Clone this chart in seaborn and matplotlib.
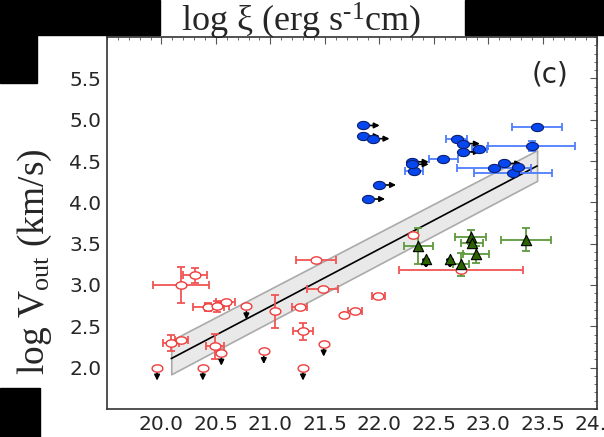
import numpy as np
import matplotlib
matplotlib.use("Agg")
import matplotlib.pyplot as plt
from matplotlib.path import Path
from matplotlib.patches import Rectangle
import seaborn as sns

# 1. Values
# warm absorbers (red open circles) with error bars
wa_x = [20.18, 20.31, 20.43, 20.51, 20.59, 20.09, 20.18, 20.49, 21.42, 21.48,
        21.04, 21.27, 21.30, 21.99, 21.78, 21.68, 22.31, 22.75]
wa_y = [3.00, 3.12, 2.73, 2.74, 2.79, 2.30, 2.33, 2.26, 3.30, 2.95,
        2.68, 2.73, 2.44, 2.87, 2.69, 2.64, 3.61, 3.18]
wa_xerr = [0.26, 0.11, 0.14, 0.11, 0.085, 0.075, 0.06, 0.08, 0.18, 0.14,
           0.0, 0.07, 0.09, 0.06, 0.065, 0.0, 0.0, 0.57]
wa_yerr = [0.22, 0.09, 0.05, 0.07, 0.0, 0.10, 0.0, 0.15, 0.0, 0.0,
           0.20, 0.0, 0.10, 0.0, 0.0, 0.0, 0.0, 0.0]

# warm absorber upper limits (down arrows)
wa_ul_x = [19.96, 20.38, 20.55, 20.78, 20.94, 21.30, 21.49]
wa_ul_y = [2.00, 2.00, 2.18, 2.74, 2.20, 2.00, 2.29]

# UFOs (blue filled circles) with error bars
ufo_x = [23.45, 22.71, 23.40, 22.92, 22.59, 22.32, 23.05, 23.23, 23.27]
ufo_y = [4.91, 4.77, 4.68, 4.65, 4.53, 4.38, 4.41, 4.36, 4.43]
ufo_xerr = [0.23, 0.10, 0.40, 0.07, 0.13, 0.08, 0.34, 0.36, 0.0]
ufo_yerr = [0.0, 0.0, 0.06, 0.0, 0.0, 0.0, 0.0, 0.0, 0.0]

# UFO lower limits on xi (right arrows)
ufo_ll_x = [21.85, 21.85, 21.94, 22.77, 22.77, 22.30, 22.30, 23.15, 22.00, 21.90]
ufo_ll_y = [4.93, 4.80, 4.77, 4.71, 4.61, 4.49, 4.46, 4.47, 4.21, 4.04]

# green triangles
gr_x = [22.36, 22.75, 22.84, 22.85, 22.89, 23.35]
gr_y = [3.47, 3.25, 3.58, 3.51, 3.37, 3.55]
gr_xerr = [0.13, 0.07, 0.14, 0.10, 0.12, 0.23]
gr_yerr = [0.22, 0.14, 0.08, 0.04, 0.10, 0.14]
gr_ul_x = [22.43, 22.65]
gr_ul_y = [3.31, 3.31]

# linear fit and its confidence band (end points)
fit_x = [20.09, 23.45]
fit_y = [2.11, 4.44]
band_lo = [1.92, 4.26]
band_hi = [2.33, 4.63]

# 2. Style
sns.set_style("white")
plt.rcParams["font.family"] = ["DejaVu Sans"]
plt.rcParams["mathtext.fontset"] = "custom"
plt.rcParams["mathtext.rm"] = "Liberation Serif"
plt.rcParams["mathtext.it"] = "Liberation Serif:italic"

fig = plt.figure(figsize=(6.04, 4.37), dpi=100)
ax = fig.add_axes([107 / 604, 28 / 437, 490 / 604, 372 / 437])

# squashed circle marker (the source image is stretched sideways)
t = np.linspace(0, 2 * np.pi, 60)
ell = Path(np.column_stack([np.cos(t), 0.68 * np.sin(t)]))

# fit band + line
ax.fill_between(fit_x, band_lo, band_hi, color="#e9e9e9", edgecolor="#aaaaaa",
                linewidth=1.2, zorder=1)
sns.lineplot(x=fit_x, y=fit_y, color="black", linewidth=1.2, ax=ax, zorder=2)

# error bars
ax.errorbar(wa_x, wa_y, xerr=wa_xerr, yerr=wa_yerr, fmt="none", ecolor="#f05555",
            elinewidth=1.3, capsize=3, capthick=1.3, zorder=3)
ax.errorbar(ufo_x, ufo_y, xerr=ufo_xerr, yerr=ufo_yerr, fmt="none", ecolor="#4d7dff",
            elinewidth=1.3, capsize=3, capthick=1.3, zorder=3)
ax.errorbar(gr_x, gr_y, xerr=gr_xerr, yerr=gr_yerr, fmt="none", ecolor="#5e9a3e",
            elinewidth=1.3, capsize=3, capthick=1.3, zorder=3)

# limit arrows
arr = dict(arrowstyle="-|>", color="black", lw=1.2, mutation_scale=8)
for x, y in zip(wa_ul_x, wa_ul_y):
    ax.annotate("", xy=(x, y - 0.19), xytext=(x, y - 0.03), arrowprops=arr, zorder=4)
for x, y in zip(ufo_ll_x, ufo_ll_y):
    ax.annotate("", xy=(x + 0.18, y), xytext=(x + 0.03, y), arrowprops=arr, zorder=4)
arr_g = dict(arrowstyle="-|>", color="black", lw=2.2, mutation_scale=9)
for x, y in zip(gr_ul_x, gr_ul_y):
    ax.annotate("", xy=(x, y - 0.14), xytext=(x, y - 0.02), arrowprops=arr_g, zorder=4)

# markers
sns.scatterplot(x=wa_x + wa_ul_x, y=wa_y + wa_ul_y, marker=ell, s=60,
                facecolor="white", edgecolor="#f03c3c", linewidth=1.0, ax=ax, zorder=5)
sns.scatterplot(x=ufo_x + ufo_ll_x, y=ufo_y + ufo_ll_y, marker=ell, s=75,
                color="#0747f0", edgecolor="#0a1f6e", linewidth=0.8, ax=ax, zorder=5)
sns.scatterplot(x=gr_x + gr_ul_x, y=gr_y + gr_ul_y, marker="^", s=55,
                color="#2b6300", edgecolor="black", linewidth=0.8, ax=ax, zorder=5)

# axes
ax.set_xlim(19.5, 24.0)
ax.set_ylim(1.5, 6.0)
ax.set_xticks(np.arange(20.0, 24.01, 0.5))
ax.set_xticklabels(["20.0", "20.5", "21.0", "21.5", "22.0", "22.5", "23.0", "23.5", "24.0"])
ax.set_yticks(np.arange(2.0, 5.51, 0.5))
ax.xaxis.set_minor_locator(matplotlib.ticker.MultipleLocator(0.1))
ax.yaxis.set_minor_locator(matplotlib.ticker.MultipleLocator(0.1))
ax.tick_params(which="both", direction="in", top=True, right=True, color="#555555")
ax.tick_params(which="major", length=5, labelsize=14.5, pad=4)
ax.tick_params(which="minor", length=2.5)
for s in ax.spines.values():
    s.set_color("#333333")
    s.set_linewidth(1.2)

ax.text(0.904, 0.898, "(c)", transform=ax.transAxes, ha="center", va="center",
        fontsize=20)

fig.text(301 / 604, 1 - 21 / 437, r"log ξ (erg s$^{\text{-}1}$cm)", ha="center", va="center",
         fontsize=26, family="Liberation Serif")
fig.text(35 / 604, 1 - 262 / 437, r"log V$_{\mathrm{out}}$ (km/s)", ha="center",
         va="center", rotation=90, fontsize=27, family="Liberation Serif")

# black blocks at the corners of the source crop
for (x0, y0, w, h) in [(0, 0, 160, 35), (0, 0, 37, 83), (465, 0, 139, 35), (0, 388, 40, 49)]:
    fig.add_artist(Rectangle((x0 / 604, 1 - (y0 + h) / 437), w / 604, h / 437,
                             transform=fig.transFigure, color="black", zorder=10))

plt.savefig("out.png", dpi=100)
